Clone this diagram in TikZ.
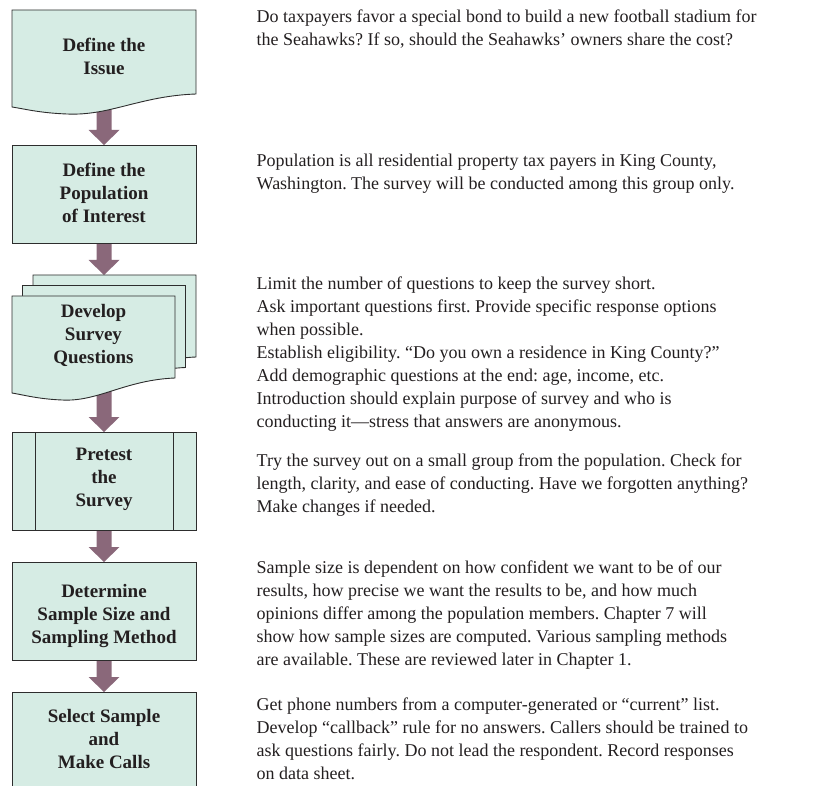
\documentclass[tikz,border=0pt]{standalone}
\usepackage{fontspec}
\setmainfont{Liberation Serif}
\usetikzlibrary{calc}
\frenchspacing

\definecolor{boxfill}{RGB}{214,236,228}
\definecolor{boxline}{RGB}{45,45,45}
\definecolor{arrowfill}{RGB}{138,104,122}
\definecolor{ink}{RGB}{35,31,32}

\pgfdeclarelayer{back}
\pgfsetlayers{back,main}

% block arrow from the bottom of one step to the top of the next, along the spine
\newcommand\flowarrow[2]{%
  \fill[arrowfill] let \p1=(#1.south -| spine), \p2=(#2.north -| spine) in
    (\x1-7.5pt,\y1) -- (\x1+7.5pt,\y1) -- (\x1+7.5pt,\y2+15pt) --
    (\x1+15.5pt,\y2+15pt) -- (\x1,\y2) -- (\x1-15.5pt,\y2+15pt) --
    (\x1-7.5pt,\y2+15pt) -- cycle;}

% outline of a single document sheet (wavy bottom edge)
\newcommand\docsheet{%
  (12,296) -- (175,296) -- (175,378)
  .. controls (125,380) and (98,402) .. (62,400)
  .. controls (38,399) and (24,395) .. (12,393) -- cycle}

\begin{document}
\begin{tikzpicture}[x=1pt,y=-1pt,
  boxshape/.style={fill=boxfill,draw=boxline,line width=0.9pt},
  boxframe/.style={minimum width=184pt,inner sep=0pt,outer sep=0pt},
  steptext/.style={font=\bfseries\fontsize{19}{23}\selectfont,align=center,
    inner sep=0pt,text=ink},
  sidetext/.style={font=\fontsize{18}{23}\selectfont,align=left,
    anchor=north west,inner sep=0pt,text=ink}]

\path[use as bounding box] (0,0) rectangle (817,786);
\clip (0,0) rectangle (817,786);

\coordinate (spine) at (104,0);

% step frames
\node[boxframe,minimum height=90pt]  (n1) at (104,55)  {};
\node[boxframe,minimum height=98pt]  (n2) at (104,194) {};
\node[boxframe,minimum height=103pt] (n3) at (104,326.5) {};
\node[boxframe,minimum height=98pt]  (n4) at (104,481) {};
\node[boxframe,minimum height=98pt]  (n5) at (104,611) {};
\node[boxframe,minimum height=108pt] (n6) at (104,746) {};

% step labels
\node[steptext] (t1) at (104,58.4)  {\strut Define the\\Issue\strut};
\node[steptext] (t2) at (104,194.9) {\strut Define the\\Population\\of Interest\strut};
\node[steptext] (t3) at (93.5,336)  {\strut Develop\\Survey\\Questions\strut};
\node[steptext] (t4) at (104,479)   {\strut Pretest\\the\\Survey\strut};
\node[steptext] (t5) at (104,615.4) {\strut Determine\\Sample Size and\\Sampling Method\strut};
\node[steptext] (t6) at (104,740.4) {\strut Select Sample\\and\\Make Calls\strut};

% explanations
\node[sidetext] (d1) at (256.5,6.4) {\strut Do taxpayers favor a special bond to build a new football stadium for\\
the Seahawks? If so, should the Seahawks’ owners share the cost?};
\node[sidetext] (d2) at (256.5,149.9) {\strut Population is all residential property tax payers in King County,\\
Washington. The survey will be conducted among this group only.};
\node[sidetext] (d3) at (256.5,272.9) {\strut Limit the number of questions to keep the survey short.\\
Ask important questions first. Provide specific response options\\
when possible.\\
Establish eligibility. “Do you own a residence in King County?”\\
Add demographic questions at the end: age, income, etc.\\
Introduction should explain purpose of survey and who is\\
conducting it—stress that answers are anonymous.};
\node[sidetext] (d4) at (256.5,449.9) {\strut Try the survey out on a small group from the population. Check for\\
length, clarity, and ease of conducting. Have we forgotten anything?\\
Make changes if needed.};
\node[sidetext] (d5) at (256.5,556.9) {\strut Sample size is dependent on how confident we want to be of our\\
results, how precise we want the results to be, and how much\\
opinions differ among the population members. Chapter 7 will\\
show how sample sizes are computed. Various sampling methods\\
are available. These are reviewed later in Chapter 1.};
\node[sidetext] (d6) at (256.5,693.9) {\strut Get phone numbers from a computer-generated or “current” list.\\
Develop “callback” rule for no answers. Callers should be trained to\\
ask questions fairly. Do not lead the respondent. Record responses\\
on data sheet.};

\begin{pgfonlayer}{back}
  % connectors
  \flowarrow{n1}{n2}
  \flowarrow{n2}{n3}
  \flowarrow{n3}{n4}
  \flowarrow{n4}{n5}
  \flowarrow{n5}{n6}

  % 1: document
  \draw[boxshape] (n1.north west) -- (n1.north east) -- (196,94)
    .. controls (140,96) and (110,116) .. (67,114)
    .. controls (40,113) and (25,109) .. (12,107) -- cycle;
  % 2: process
  \draw[boxshape] (n2.north west) rectangle (n2.south east);
  % 3: stacked documents
  \begin{scope}[shift={(21,-21)}]
    \draw[boxshape] \docsheet;
  \end{scope}
  \begin{scope}[shift={(10.5,-10.5)}]
    \draw[boxshape] \docsheet;
  \end{scope}
  \draw[boxshape] \docsheet;
  % 4: predefined process
  \draw[boxshape] (n4.north west) rectangle (n4.south east);
  \draw[draw=boxline,line width=0.9pt]
    ([xshift=23pt]n4.north west) -- ([xshift=23pt]n4.south west)
    ([xshift=-23pt]n4.north east) -- ([xshift=-23pt]n4.south east);
  % 5, 6: process
  \draw[boxshape] (n5.north west) rectangle (n5.south east);
  \draw[boxshape] (n6.north west) rectangle (n6.south east);
\end{pgfonlayer}
\end{tikzpicture}
\end{document}
